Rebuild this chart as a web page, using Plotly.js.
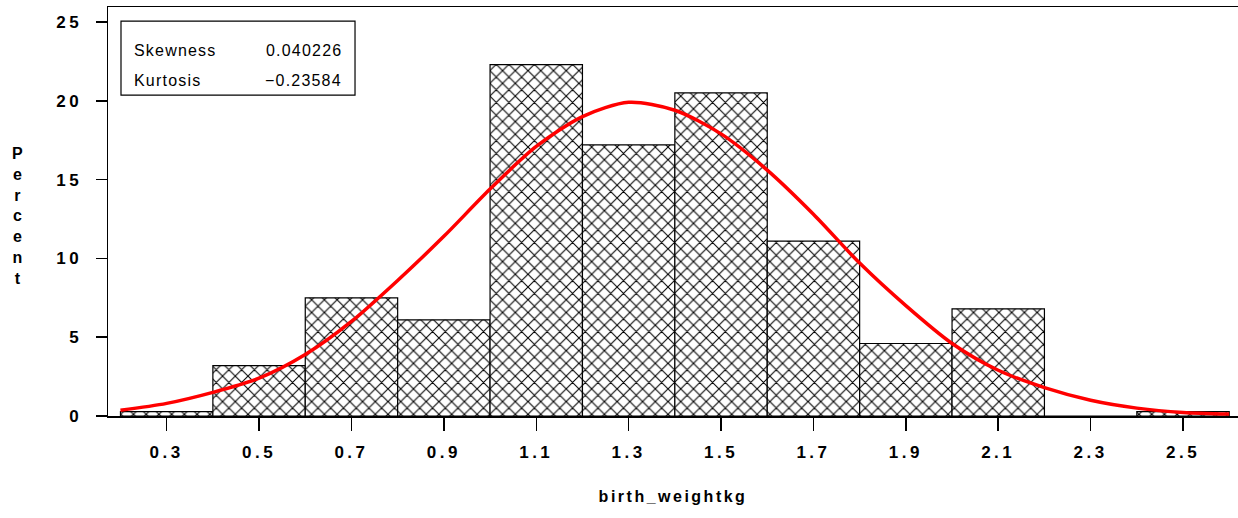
<!DOCTYPE html>
<html>
<head>
<meta charset="utf-8">
<script src="https://cdn.plot.ly/plotly-3.0.1.min.js"></script>
<style>
  html, body { margin: 0; padding: 0; background: #fff; }
  #chart { width: 1238px; height: 518px; }
  .xtick text, .ytick text { letter-spacing: 3.5px; }
  .g-xtitle text { letter-spacing: 2.5px; }
  .annotation-text { letter-spacing: 1.2px; }
</style>
</head>
<body>
<div id="chart"></div>
<script>
// ---- data ----
const binCenters = [0.3, 0.5, 0.7, 0.9, 1.1, 1.3, 1.5, 1.7, 1.9, 2.1, 2.3, 2.5];
const percents   = [0.28, 3.2, 7.5, 6.1, 22.3, 17.2, 20.5, 11.1, 4.6, 6.8, 0, 0.28];

const curveX = [0.2, 0.3, 0.4, 0.5, 0.6, 0.7, 0.8, 0.9, 1.0, 1.1, 1.2, 1.3, 1.4, 1.5, 1.6, 1.7, 1.8, 1.9, 2.0, 2.1, 2.2, 2.3, 2.4, 2.5, 2.6];
const curveY = [0.36, 0.8, 1.5, 2.4, 3.9, 6.0, 8.6, 11.4, 14.4, 17.1, 19.0, 19.9, 19.4, 17.9, 15.6, 12.8, 9.7, 7.0, 4.6, 2.9, 1.8, 1.0, 0.5, 0.22, 0.12];

const tickVals  = [0.3, 0.5, 0.7, 0.9, 1.1, 1.3, 1.5, 1.7, 1.9, 2.1, 2.3, 2.5];
const tickText  = ["0.3", "0.5", "0.7", "0.9", "1.1", "1.3", "1.5", "1.7", "1.9", "2.1", "2.3", "2.5"];
const yTickVals = [0, 5, 10, 15, 20, 25];

const statLabels = ["Skewness", "Kurtosis"];
const statValues = ["0.040226", "\u22120.23584"];

const xTitle = "birth_weightkg";
const yTitle = "Percent";

// ---- traces ----
const bars = {
  type: 'bar',
  x: binCenters,
  y: percents,
  width: 0.2,
  marker: {
    color: 'white',
    line: { color: 'black', width: 1.2 },
    pattern: { shape: 'x', fgcolor: 'black', bgcolor: 'white', size: 9, solidity: 0.22 }
  },
  hoverinfo: 'x+y',
  showlegend: false
};

const curve = {
  type: 'scatter',
  mode: 'lines',
  x: curveX,
  y: curveY,
  line: { color: '#ff0000', width: 3.5, shape: 'spline', smoothing: 0.8 },
  showlegend: false
};

const boldFont = (s) => ({ family: 'Liberation Sans, Arial, sans-serif', size: s, color: 'black', weight: 'bold' });
const plainFont = { family: 'Liberation Sans, Arial, sans-serif', size: 16, color: 'black' };

const annotations = [
  {
    xref: 'paper', yref: 'paper', x: -0.0795, y: 0.488, xanchor: 'center', yanchor: 'middle',
    text: yTitle.split('').join('<br>'), showarrow: false,
    font: boldFont(16)
  }
];
const rowY = [0.8948, 0.8214];
statLabels.forEach((lab, i) => {
  annotations.push({
    xref: 'paper', yref: 'paper', x: 0.0215, y: rowY[i], xanchor: 'left', yanchor: 'middle',
    text: lab, showarrow: false, font: plainFont
  });
  annotations.push({
    xref: 'paper', yref: 'paper', x: 0.2085, y: rowY[i], xanchor: 'right', yanchor: 'middle',
    text: statValues[i], showarrow: false, font: plainFont
  });
});

const layout = {
  width: 1238, height: 518,
  margin: { l: 108, r: 0, t: 7, b: 102 },
  paper_bgcolor: 'white', plot_bgcolor: 'white',
  bargap: 0,
  xaxis: {
    range: [0.173, 2.619],
    tickvals: tickVals, ticktext: tickText,
    ticks: 'outside', ticklen: 13, tickwidth: 1.5, tickcolor: 'black',
    ticklabelstandoff: 7,
    showline: true, linecolor: 'black', linewidth: 1.5, mirror: true,
    showgrid: false, zeroline: false,
    tickfont: boldFont(17),
    automargin: false,
    title: { text: xTitle, standoff: 30, font: boldFont(16) }
  },
  yaxis: {
    range: [0, 25.95],
    tickvals: yTickVals,
    ticks: 'outside', ticklen: 11, tickwidth: 1.5, tickcolor: 'black',
    ticklabelstandoff: 10,
    showline: true, linecolor: 'black', linewidth: 1.5,
    showgrid: false, zeroline: false,
    tickfont: boldFont(17),
    automargin: false
  },
  shapes: [
    { type: 'rect', xref: 'paper', yref: 'paper', x0: 0.0115, x1: 0.2186, y0: 0.7847, y1: 0.9657,
      line: { color: 'black', width: 1.2 }, fillcolor: 'white', layer: 'above' }
  ],
  annotations: annotations
};

Plotly.newPlot('chart', [bars, curve], layout, { displayModeBar: false, staticPlot: true });
</script>
</body>
</html>
